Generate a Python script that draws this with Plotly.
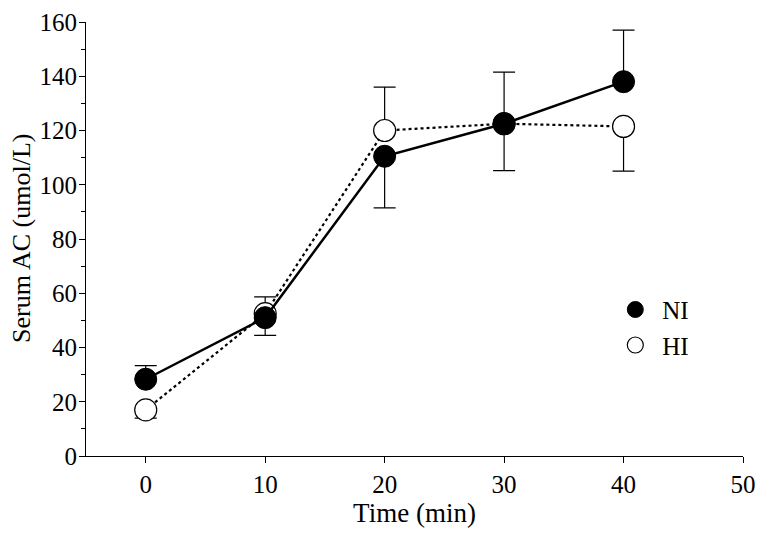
import plotly.graph_objects as go

time = [0, 10, 20, 30, 40]
ni_mean = [28.3, 51.0, 110.5, 122.5, 138.0]
ni_err_plus = [5.0, 0.0, 0.0, 19.0, 19.0]
ni_err_minus = [0.0, 6.5, 19.0, 0.0, 0.0]
hi_mean = [17.0, 52.5, 120.0, 122.5, 121.5]
hi_err_plus = [0.0, 6.2, 16.0, 0.0, 0.0]
hi_err_minus = [3.0, 0.0, 0.0, 17.3, 16.5]
x_ticks = [0, 10, 20, 30, 40, 50]
y_ticks = [0, 20, 40, 60, 80, 100, 120, 140, 160]
y_minor = [10, 30, 50, 70, 90, 110, 130, 150]

FONT = "Liberation Serif"

fig = go.Figure()
fig.add_trace(go.Scatter(
    x=time, y=hi_mean, mode="lines+markers", name="HI",
    line=dict(color="black", width=2.2, dash="dot"),
    marker=dict(size=22, color="white", line=dict(color="black", width=1.2)),
    error_y=dict(type="data", symmetric=False, array=hi_err_plus, arrayminus=hi_err_minus,
                 color="black", thickness=1.2, width=11),
    showlegend=False,
))
fig.add_trace(go.Scatter(
    x=time, y=ni_mean, mode="lines+markers", name="NI",
    line=dict(color="black", width=2.5),
    marker=dict(size=22, color="black", line=dict(color="black", width=1)),
    error_y=dict(type="data", symmetric=False, array=ni_err_plus, arrayminus=ni_err_minus,
                 color="black", thickness=1.2, width=11),
    showlegend=False,
))
# legend entries (markers only)
fig.add_trace(go.Scatter(x=[None], y=[None], mode="markers", name="NI", legendgroup="a",
                         marker=dict(size=22, color="black", line=dict(color="black", width=1))))
fig.add_trace(go.Scatter(x=[None], y=[None], mode="markers", name="HI", legendgroup="b",
                         marker=dict(size=22, color="white", line=dict(color="black", width=1.2))))

fig.update_layout(
    template="none",
    width=748, height=520,
    margin=dict(l=78, r=13, t=14, b=72, autoexpand=False),
    paper_bgcolor="white", plot_bgcolor="white",
    font=dict(family=FONT, size=25, color="black"),
    legend=dict(x=0.795, y=0.39, xanchor="left", yanchor="top", bgcolor="rgba(0,0,0,0)",
                font=dict(family=FONT, size=25), traceorder="grouped", tracegroupgap=0,
                itemwidth=44),
    xaxis=dict(range=[-5, 50], tickvals=x_ticks, showgrid=False, zeroline=False, automargin=False,
               showline=True, linecolor="black", linewidth=1, ticks="outside", ticklen=6,
               tickcolor="black", tickwidth=1, tickfont=dict(size=25),
               ticklabeloverflow="allow",
               title=dict(text="Time (min)", font=dict(size=27), standoff=2)),
    yaxis=dict(range=[0, 160], tickvals=y_ticks, showgrid=False, automargin=False,
               zeroline=False, showline=True, linecolor="black", linewidth=1, ticks="outside",
               ticklen=6, tickcolor="black", tickwidth=1, tickfont=dict(size=25),
               ticklabeloverflow="allow", ticklabelstandoff=-3,
               minor=dict(tickvals=y_minor, ticks="outside",
                          ticklen=4, tickcolor="black", tickwidth=1)),
    annotations=[dict(text="Serum AC (umol/L)", textangle=-90, xref="paper", yref="paper",
                      x=0, y=0.5, xanchor="center", yanchor="middle", xshift=-65,
                      showarrow=False, font=dict(family=FONT, size=26))],
)

fig.write_html("out.html")
